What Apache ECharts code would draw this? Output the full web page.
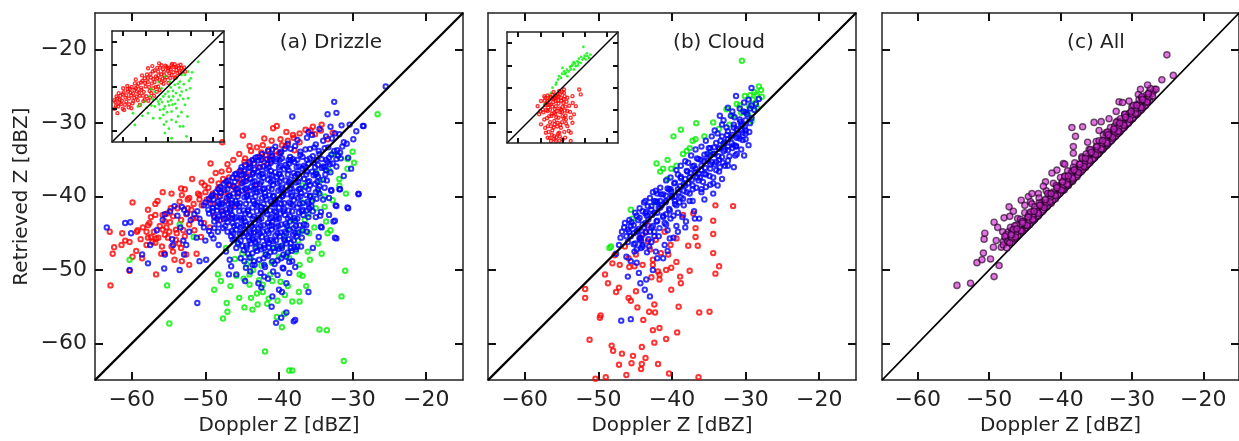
<!DOCTYPE html>
<html>
<head>
<meta charset="utf-8">
<script src="https://cdn.jsdelivr.net/npm/echarts@6/dist/echarts.min.js"></script>
<style>
  html, body { margin: 0; padding: 0; background: #fff; }
  #chart { width: 1239px; height: 441px; }
</style>
</head>
<body>
<div id="chart"></div>
<script>
// axis range and ticks (dBZ)
var axisRange = [-65, -15];
var tickValues = [-60, -50, -40, -30, -20];
var diag = [[-65, -65], [-15, -15]];
var panelTitles = ['(a) Drizzle', '(b) Cloud', '(c) All'];

// (a) Drizzle
var drizzleRed = [
  [-65.1,-51.8],[-62.9,-52.1],[-62.4,-46.9],[-62.6,-47.8],[-63.0,-44.8],[-61.3,-45.0],[-60.9,-46.0],[-60.3,-50.1],
  [-59.9,-48.2],[-59.9,-40.8],[-59.2,-44.6],[-58.6,-48.4],[-58.0,-44.8],[-56.7,-45.7],[-57.8,-43.9],[-56.7,-50.6],
  [-56.5,-40.6],[-55.8,-39.4],[-55.5,-43.4],[-54.9,-44.8],[-54.4,-42.7],[-54.0,-45.9],[-53.3,-38.9],[-53.5,-40.7],
  [-53.2,-39.8],[-52.2,-40.2],[-52.2,-49.3],[-52.4,-41.6],[-51.7,-43.0],[-50.8,-39.8],[-50.5,-38.1],[-50.1,-38.5],
  [-49.3,-35.5],[-49.0,-39.6],[-48.3,-38.9],[-47.6,-37.6],[-46.8,-36.4],[-46.6,-38.5],[-45.4,-37.6],[-44.9,-31.7],
  [-44.7,-35.3],[-44.5,-36.9],[-44.0,-33.1],[-43.6,-35.1],[-43.0,-33.3],[-42.0,-32.1],[-42.4,-34.0],[-41.8,-34.4],
  [-41.1,-35.2],[-40.8,-30.7],[-40.3,-30.4],[-40.0,-34.1],[-39.1,-33.1],[-38.1,-31.6],[-37.9,-33.7],[-37.2,-32.6],
  [-35.7,-31.0],[-35.1,-31.5],[-34.3,-31.0],[-33.4,-32.2],[-32.7,-31.3],[-47.7,-32.6],[-52.6,-47.9],[-53.3,-47.0],
  [-54.4,-47.5],[-55.6,-47.7],[-55.1,-45.6],[-55.8,-44.5],[-57.4,-45.5],[-57.8,-45.6],[-56.8,-42.5],[-55.8,-42.5],
  [-54.7,-41.6],[-58.5,-44.2],[-57.6,-43.6],[-57.0,-44.8],[-56.2,-44.0],[-55.5,-45.2],[-54.8,-43.5],[-54.0,-44.5],
  [-53.3,-43.2],[-52.6,-42.4],[-51.9,-41.8],[-51.2,-42.9],[-50.5,-41.2],[-49.8,-40.4],[-49.0,-41.0],[-48.2,-40.0],
  [-47.5,-39.4],[-46.8,-39.8],[-46.0,-38.8],[-45.2,-38.2],[-44.4,-37.5],[-43.6,-36.8],[-42.8,-36.0],[-42.0,-35.3],
  [-41.2,-34.6],[-40.4,-33.8],[-39.6,-33.0],[-38.8,-32.4],[-38.0,-32.0],[-37.2,-31.4],[-36.4,-30.9],[-35.4,-30.5],
  [-34.2,-30.2],[-56.8,-46.3],[-55.9,-46.8],[-58.0,-46.6],[-53.6,-46.4],[-52.8,-45.4],[-51.5,-44.6],[-50.2,-43.6],
  [-48.8,-42.6],[-47.6,-42.0],[-46.4,-41.3],[-53.8,-41.6],[-52.4,-40.4],[-51.0,-39.6],[-49.6,-38.8],[-48.2,-38.2],
  [-46.8,-37.4],[-45.4,-36.6],[-44.0,-35.6],[-42.6,-34.6],[-41.4,-33.6],[-39.8,-32.2],[-55.2,-42.3],[-57.4,-42.8],
  [-59.3,-44.8],[-60.3,-46.2],[-61.4,-46.6],
  [-57.2,-46.2],[-56.4,-45.6],[-55.3,-44.2],[-54.6,-46.8],[-53.9,-45.0],[-53.0,-44.6],[-52.2,-43.8],[-51.6,-41.0],
  [-50.8,-40.4],[-50.0,-39.4],[-49.2,-37.8],[-48.6,-36.8],[-47.8,-36.6],[-47.0,-35.6],[-46.2,-35.0],[-45.4,-34.2],
  [-44.6,-34.8],[-43.8,-33.8],[-42.2,-33.0],[-41.0,-32.4],[-39.0,-31.2],[-58.8,-45.8],[-59.4,-47.4],[-56.0,-47.8],
  [-54.2,-48.6],[-53.2,-48.8],[-51.2,-47.8],[-50.6,-45.5],[-49.4,-44.2],[-48.0,-43.2],[-46.8,-42.8],[-45.6,-39.6],
  [-47.2,-40.6],[-44.4,-39.2],[-43.0,-38.4],[-52.8,-39.0],[-51.8,-37.6],[-57.8,-41.8],[-56.8,-41.0],[-54.6,-39.6]
];
var drizzleGreen = [
  [-26.6,-28.8],[-30.0,-33.9],[-30.7,-34.9],[-29.8,-35.4],[-30.7,-36.2],[-31.8,-37.6],[-31.8,-38.5],[-30.9,-39.6],
  [-32.7,-40.5],[-33.8,-41.4],[-33.4,-45.0],[-34.7,-46.4],[-35.9,-45.0],[-36.1,-47.5],[-37.2,-49.3],[-37.2,-50.6],
  [-36.3,-52.2],[-37.3,-53.0],[-38.2,-54.3],[-37.2,-54.3],[-39.3,-56.0],[-39.6,-57.8],[-40.3,-56.4],[-31.0,-50.1],
  [-31.5,-53.6],[-34.5,-58.1],[-33.5,-58.2],[-31.2,-62.4],[-41.9,-61.1],[-38.6,-63.7],[-38.2,-63.7],[-47.6,-56.6],
  [-47.0,-55.7],[-47.1,-54.5],[-48.8,-52.7],[-48.3,-50.6],[-47.9,-51.5],[-44.7,-55.1],[-43.6,-55.4],[-42.9,-54.7],
  [-41.4,-53.9],[-42.2,-53.0],[-43.8,-53.8],[-40.9,-51.5],[-42.7,-51.4],[-44.0,-50.6],[-54.9,-57.3],[-55.2,-52.1],
  [-60.3,-48.6],[-51.6,-45.5],[-53.5,-43.8],[-39.0,-47.9],[-37.7,-47.5],[-39.8,-46.8],[-41.8,-47.9],[-38.8,-44.3],
  [-38.1,-43.2],[-33.6,-43.4],[-35.4,-40.3],[-34.7,-39.4],[-36.8,-38.5],[-35.0,-36.7],[-32.7,-34.2],[-31.9,-34.4],
  [-46.0,-48.5],[-44.8,-51.2],[-43.5,-50.0],[-42.2,-52.0],[-41.0,-49.0],[-39.8,-51.6],[-38.6,-48.4],[-37.4,-46.0],
  [-36.5,-43.2],[-35.2,-44.2],[-34.4,-37.8],[-33.2,-36.4],[-39.2,-45.5],[-40.6,-47.0],[-45.5,-46.5],[-47.2,-47.0],
  [-43.0,-46.8],[-36.8,-40.8],
  [-45.0,-47.8],[-43.8,-48.4],[-42.4,-49.4],[-41.2,-50.6],[-40.0,-48.2],[-38.4,-47.0],[-37.0,-44.8],[-36.0,-42.4],
  [-35.0,-41.6],[-33.8,-40.0],[-43.0,-53.2],[-41.6,-54.6],[-39.2,-53.4],[-38.8,-52.2],[-46.6,-52.2],[-45.4,-53.8],
  [-44.0,-52.0],[-40.2,-54.2],[-35.8,-48.6],[-34.2,-47.8],[-33.0,-44.6],[-36.8,-50.8],[-45.8,-50.8],[-44.4,-49.2]
];
var drizzleBlue = [
  [-63.4,-44.2],[-60.9,-43.6],[-60.2,-43.5],[-60.3,-50.0],[-60.1,-45.0],[-58.6,-47.9],[-57.8,-49.1],[-57.5,-46.6],
  [-55.6,-49.8],[-55.5,-47.9],[-55.5,-42.4],[-54.4,-46.6],[-53.5,-50.0],[-52.9,-47.9],[-52.6,-46.6],[-51.1,-54.5],
  [-50.8,-48.8],[-49.9,-48.6],[-54.2,-41.3],[-53.2,-41.4],[-52.5,-42.3],[-51.5,-42.4],[-50.8,-43.0],[-50.2,-44.2],
  [-49.5,-44.7],[-48.9,-45.7],[-48.2,-46.6],[-38.2,-29.1],[-32.5,-27.1],[-32.2,-28.6],[-33.4,-28.8],[-25.5,-25.0],
  [-28.6,-30.4],[-29.2,-39.6],[-30.7,-41.5],[-32.3,-41.2],[-32.6,-43.4],[-32.4,-45.6],[-31.8,-39.0],[-32.9,-39.1],
  [-34.3,-44.1],[-34.3,-42.1],[-35.9,-41.6],[-36.3,-43.9],[-36.0,-53.0],[-37.0,-46.8],[-37.8,-56.8],[-39.0,-51.8],
  [-39.5,-49.7],[-40.4,-57.2],[-39.7,-56.5],[-40.8,-50.2],[-42.0,-50.9],[-42.0,-49.3],[-43.6,-49.3],[-44.5,-49.7],
  [-44.7,-48.8],[-45.8,-50.6],[-46.8,-50.6],[-46.7,-48.6],[-45.8,-47.0],[-47.2,-47.5],[-46.3,-45.9],[-48.3,-44.8],
  [-48.8,-44.3],[-42.4,-52.4],[-40.0,-52.7],[-28.5,-30.4],[-29.5,-31.1],[-30.4,-30.2],[-29.9,-32.2],[-31.7,-34.0],
  [-32.2,-34.9],[-30.6,-34.7],[-33.1,-35.6],[-31.7,-39.0],[-32.9,-39.2],[-34.0,-40.4],[-32.2,-41.3],[-30.6,-41.6],
  [-32.4,-43.3],[-34.2,-44.2],[-32.2,-45.7],[-29.2,-39.7],[-34.4,-42.6],
  [-36.0,-31.2],[-34.5,-30.8],[-33.0,-30.5],[-31.5,-30.3],[-35.5,-31.6],[-32.4,-31.4],
  [-37.5,-32.3],[-36.2,-32.0],[-34.0,-32.4],[-32.8,-32.1],[-31.2,-32.6],[-38.8,-32.8],[-35.0,-32.9],
  [-40.5,-33.2],[-39.2,-33.5],[-37.8,-33.1],[-36.4,-33.6],[-35.2,-33.3],[-33.8,-33.4],[-32.5,-33.8],[-31.4,-33.2],[-41.5,-33.8],
  [-42.3,-34.2],[-41.0,-34.5],[-39.8,-34.1],[-38.5,-34.6],[-37.1,-34.3],[-35.8,-34.8],[-34.5,-34.2],[-33.2,-34.7],[-32.0,-34.4],[-40.3,-34.9],[-43.2,-34.7],
  [-44.0,-35.3],[-42.8,-35.1],[-41.6,-35.6],[-40.4,-35.2],[-39.1,-35.7],[-37.9,-35.3],[-36.6,-35.8],[-35.3,-35.4],[-34.0,-35.9],[-32.7,-35.5],[-38.4,-35.1],
  [-45.2,-36.4],[-44.1,-36.1],[-42.9,-36.6],[-41.7,-36.2],[-40.5,-36.7],[-39.3,-36.3],[-38.0,-36.8],[-36.8,-36.2],[-35.5,-36.6],[-34.2,-36.1],[-33.0,-36.7],[-43.5,-36.8],[-40.0,-36.0],
  [-46.3,-37.4],[-45.1,-37.1],[-43.9,-37.6],[-42.7,-37.2],[-41.5,-37.7],[-40.3,-37.3],[-39.1,-37.8],[-37.8,-37.2],[-36.6,-37.6],[-35.3,-37.1],[-34.0,-37.7],[-44.5,-37.9],[-41.0,-37.1],
  [-47.5,-38.3],[-46.2,-38.6],[-45.0,-38.2],[-43.8,-38.7],[-42.6,-38.3],[-41.4,-38.8],[-40.2,-38.2],[-39.0,-38.6],[-37.7,-38.1],[-36.4,-38.7],[-35.1,-38.3],[-33.8,-38.8],[-44.4,-38.9],[-38.3,-38.9],
  [-48.6,-39.4],[-47.4,-39.1],[-46.2,-39.6],[-45.0,-39.2],[-43.8,-39.7],[-42.6,-39.3],[-41.3,-39.8],[-40.1,-39.2],[-38.9,-39.7],[-37.6,-39.3],[-36.3,-39.8],[-35.0,-39.4],[-43.2,-39.0],[-39.5,-39.9],
  [-49.5,-40.3],[-48.3,-40.7],[-47.1,-40.2],[-45.9,-40.6],[-44.7,-40.1],[-43.5,-40.6],[-42.3,-40.2],[-41.1,-40.7],[-39.9,-40.3],[-38.6,-40.8],[-37.4,-40.2],[-36.1,-40.7],[-34.9,-40.3],[-46.5,-40.9],[-40.5,-40.9],
  [-50.2,-41.2],[-49.0,-41.6],[-47.8,-41.1],[-46.6,-41.7],[-45.4,-41.3],[-44.2,-41.8],[-43.0,-41.2],[-41.8,-41.6],[-40.6,-41.1],[-39.3,-41.7],[-38.1,-41.2],[-36.8,-41.8],[-35.6,-41.3],[-48.4,-41.9],[-42.4,-41.9],
  [-49.5,-42.3],[-48.2,-42.7],[-47.0,-42.2],[-45.8,-42.8],[-44.6,-42.3],[-43.4,-42.7],[-42.2,-42.2],[-41.0,-42.8],[-39.8,-42.3],[-38.5,-42.7],[-37.3,-42.2],[-36.0,-42.8],[-46.4,-42.9],[-40.4,-42.1],
  [-48.8,-43.4],[-47.5,-43.1],[-46.3,-43.6],[-45.1,-43.2],[-43.9,-43.7],[-42.7,-43.2],[-41.5,-43.6],[-40.3,-43.1],[-39.1,-43.7],[-37.8,-43.3],[-36.6,-43.8],[-44.5,-43.9],[-41.0,-43.9],
  [-47.6,-44.3],[-46.4,-44.7],[-45.2,-44.2],[-44.0,-44.8],[-42.8,-44.3],[-41.6,-44.7],[-40.4,-44.2],[-39.2,-44.8],[-38.0,-44.3],[-36.8,-44.6],[-43.4,-44.9],
  [-46.5,-45.4],[-45.3,-45.1],[-44.1,-45.6],[-42.9,-45.2],[-41.7,-45.7],[-40.5,-45.3],[-39.3,-45.8],[-38.1,-45.2],[-36.9,-45.6],[-43.5,-45.9],
  [-45.6,-46.3],[-44.4,-46.7],[-43.2,-46.2],[-42.0,-46.6],[-40.8,-46.1],[-39.6,-46.7],[-38.4,-46.3],[-37.5,-46.8],[-41.4,-46.9],
  [-44.8,-47.3],[-43.6,-47.7],[-42.4,-47.2],[-41.2,-47.6],[-40.0,-47.1],[-38.8,-47.6],[-37.7,-47.2],
  [-44.0,-48.3],[-42.7,-48.6],[-41.5,-48.1],[-40.2,-48.7],[-39.0,-48.2],[-38.2,-48.8],
  [-43.3,-49.3],[-41.9,-49.6],[-40.6,-49.2],[-39.4,-49.8],[-42.5,-50.4],[-40.2,-50.7],
  [-40.9,-33.6],[-39.7,-33.9],[-38.4,-33.5],[-37.1,-33.9],[-35.8,-33.5],[-34.6,-33.8],[-33.3,-33.3],[-32.1,-33.7],
  [-42.9,-34.6],[-41.7,-34.9],[-40.9,-34.4],[-39.6,-34.8],[-38.1,-34.9],[-36.8,-34.6],[-35.4,-34.5],[-34.2,-34.9],[-32.9,-34.3],[-31.6,-34.8],
  [-44.6,-35.7],[-43.4,-35.5],[-42.1,-35.9],[-41.1,-35.4],[-39.8,-35.8],[-38.6,-35.5],[-37.3,-35.9],[-36.0,-35.5],[-34.7,-35.7],[-33.4,-35.3],[-32.2,-35.9],
  [-45.8,-36.9],[-44.7,-36.5],[-43.3,-36.3],[-42.2,-36.9],[-41.1,-36.5],[-39.9,-36.9],[-38.7,-36.4],[-37.4,-36.9],[-36.2,-36.6],[-34.9,-36.9],[-33.6,-36.4],
  [-46.9,-37.8],[-45.7,-37.5],[-44.4,-37.3],[-43.3,-37.9],[-42.1,-37.4],[-40.8,-37.8],[-39.7,-37.4],[-38.4,-37.7],[-37.2,-37.4],[-35.9,-37.9],[-34.7,-37.3],[-33.5,-37.8],
  [-48.0,-38.7],[-46.8,-38.4],[-45.6,-38.9],[-43.2,-38.5],[-42.0,-38.9],[-40.8,-38.4],[-39.6,-38.8],[-38.4,-38.4],[-37.1,-38.9],[-35.8,-38.5],[-34.5,-38.6],
  [-49.0,-39.8],[-47.9,-39.5],[-46.7,-39.9],[-45.5,-39.5],[-44.3,-39.8],[-43.0,-39.4],[-41.9,-39.5],[-40.7,-39.9],[-39.4,-39.5],[-38.2,-39.8],[-37.0,-39.5],[-35.7,-39.9],[-34.5,-39.6],
  [-50.0,-40.8],[-48.9,-40.4],[-47.7,-40.9],[-46.4,-40.5],[-45.3,-40.9],[-44.1,-40.5],[-42.9,-40.8],[-41.7,-40.4],[-40.5,-40.5],[-39.3,-40.9],[-38.0,-40.5],[-36.8,-40.9],[-35.5,-40.6],
  [-49.6,-41.8],[-48.4,-41.4],[-47.2,-41.8],[-46.0,-41.4],[-44.8,-41.9],[-43.6,-41.5],[-42.4,-41.4],[-41.2,-41.9],[-40.0,-41.5],[-38.7,-41.9],[-37.5,-41.5],[-36.2,-41.9],[-35.4,-42.0],
  [-48.8,-42.8],[-47.6,-42.4],[-46.4,-42.5],[-45.2,-42.9],[-44.0,-42.5],[-42.8,-42.9],[-41.6,-42.4],[-40.4,-42.8],[-39.2,-42.5],[-37.9,-42.9],[-36.7,-42.5],
  [-48.2,-43.8],[-47.0,-43.5],[-45.7,-43.9],[-44.6,-43.4],[-43.3,-43.6],[-42.1,-43.9],[-40.9,-43.5],[-39.7,-43.8],[-38.5,-43.4],[-37.2,-43.9],
  [-47.0,-44.8],[-45.8,-44.5],[-44.6,-44.9],[-43.4,-44.4],[-42.2,-44.8],[-41.0,-44.5],[-39.8,-44.9],[-38.6,-44.5],[-37.4,-44.9],
  [-46.0,-45.8],[-44.8,-45.4],[-43.6,-45.7],[-42.3,-45.5],[-41.1,-45.9],[-39.9,-45.4],[-38.7,-45.8],[-37.6,-45.4],
  [-45.0,-46.7],[-43.8,-46.4],[-42.6,-46.8],[-41.4,-46.4],[-40.2,-46.8],[-39.0,-46.4],[-37.9,-46.9],
  [-44.2,-47.8],[-43.0,-47.4],[-41.8,-47.9],[-40.6,-47.5],[-39.4,-47.9],[-38.3,-47.4],
  [-43.4,-48.8],[-42.1,-48.4],[-40.9,-48.8],[-39.7,-48.4],[-38.6,-48.9],
  [-54.8,-42.0],[-53.8,-42.6],[-52.9,-41.8],[-52.0,-43.2],[-51.1,-42.0],[-50.6,-43.6],[-53.4,-44.2],[-52.2,-44.8],
  [-51.2,-45.6],[-50.0,-46.0],[-49.2,-45.2],[-55.8,-43.2],[-56.6,-44.6],[-54.5,-45.8],[-53.0,-46.0],
  [-46.5,-49.5],[-45.2,-48.4],[-44.6,-51.5],[-43.9,-50.2],[-42.8,-51.8],[-41.5,-51.2],[-40.9,-53.6],[-39.6,-53.0],
  [-38.6,-50.4],[-37.8,-49.6],[-41.0,-55.0],[-39.0,-55.8],[-38.0,-57.0],
  [-33.6,-31.8],[-31.8,-31.5],[-30.8,-32.8],[-35.0,-42.8],[-33.2,-42.5],[-34.6,-45.5],[-33.2,-40.2],[-31.2,-37.2],
  [-30.2,-36.2],[-36.2,-44.8],[-35.4,-47.0],
  [-43.6,-35.0],[-42.4,-35.0],[-41.2,-35.0],[-39.9,-35.0],[-38.7,-35.0],[-37.5,-35.0],[-36.2,-35.0],[-34.9,-35.0],[-33.6,-35.0],
  [-45.1,-36.0],[-43.9,-36.0],[-42.6,-36.0],[-41.4,-36.0],[-38.9,-36.0],[-37.6,-36.0],[-36.4,-36.0],[-35.1,-36.0],[-33.8,-36.0],
  [-46.0,-37.0],[-44.8,-37.0],[-43.6,-37.0],[-42.4,-37.0],[-41.3,-37.0],[-40.0,-37.0],[-38.8,-37.0],[-37.5,-37.0],[-36.3,-37.0],[-35.0,-37.0],[-33.7,-37.0],
  [-47.2,-38.0],[-46.0,-38.0],[-44.8,-38.0],[-43.6,-38.0],[-42.4,-38.0],[-41.1,-38.0],[-39.9,-38.0],[-38.6,-38.0],[-37.4,-38.0],[-36.1,-38.0],[-34.8,-38.0],
  [-48.2,-39.0],[-47.0,-39.0],[-45.8,-39.0],[-44.6,-39.0],[-43.5,-39.0],[-42.2,-39.0],[-41.0,-39.0],[-39.8,-39.0],[-38.5,-39.0],[-37.3,-39.0],[-36.0,-39.0],[-34.7,-39.0],
  [-49.2,-40.0],[-48.0,-40.0],[-46.8,-40.0],[-45.6,-40.0],[-44.4,-40.0],[-43.2,-40.0],[-41.9,-40.0],[-40.8,-40.0],[-39.6,-40.0],[-38.3,-40.0],[-37.1,-40.0],[-35.8,-40.0],
  [-49.3,-41.0],[-48.1,-41.0],[-46.9,-41.0],[-45.7,-41.0],[-44.5,-41.0],[-43.3,-41.0],[-42.1,-41.0],[-40.9,-41.0],[-39.7,-41.0],[-38.4,-41.0],[-37.2,-41.0],[-36.0,-41.0],
  [-49.0,-42.0],[-47.8,-42.0],[-46.6,-42.0],[-45.4,-42.0],[-44.2,-42.0],[-43.0,-42.0],[-41.8,-42.0],[-40.6,-42.0],[-39.4,-42.0],[-38.2,-42.0],[-36.9,-42.0],
  [-48.4,-43.0],[-47.2,-43.0],[-46.0,-43.0],[-44.8,-43.0],[-43.6,-43.0],[-42.4,-43.0],[-41.2,-43.0],[-40.0,-43.0],[-38.8,-43.0],[-37.5,-43.0],
  [-47.3,-44.0],[-46.1,-44.0],[-44.9,-44.0],[-43.7,-44.0],[-42.5,-44.0],[-41.3,-44.0],[-40.1,-44.0],[-38.9,-44.0],[-37.7,-44.0],
  [-46.2,-45.0],[-45.0,-45.0],[-43.8,-45.0],[-42.6,-45.0],[-41.4,-45.0],[-40.2,-45.0],[-39.0,-45.0],[-37.8,-45.0],
  [-45.2,-46.0],[-44.0,-46.0],[-42.8,-46.0],[-41.6,-46.0],[-40.4,-46.0],[-39.2,-46.0],[-38.0,-46.0],
  [-44.4,-47.0],[-43.2,-47.0],[-42.0,-47.0],[-40.8,-47.0],[-39.6,-47.0],[-38.4,-47.0]
];
var drizzleInsetRed = [
  [-62.6,-52.0],[-62.3,-49.0],[-63.0,-44.5],[-60.0,-40.8],[-57.8,-42.3],[-54.8,-38.6],[-54.1,-44.5],[-50.4,-36.3],
  [-48.9,-31.8],[-46.6,-40.8],[-44.4,-33.3],[-42.9,-30.4],[-40.7,-31.1],[-38.4,-30.4],[-36.2,-32.6],[-33.9,-31.8],
  [-32.4,-33.3],[-58.6,-46.8],[-56.3,-49.8],[-52.6,-48.3],[-50.4,-46.0],[-47.4,-43.0],[-44.4,-40.0],[-41.4,-37.1],
  [-38.4,-34.8],[-51.9,-41.5],[-63.5,-47.0],[-61.5,-45.8],[-61.0,-48.0],[-60.2,-43.6],[-59.0,-45.0],[-58.2,-39.8],
  [-57.0,-41.0],[-56.4,-44.0],[-55.5,-46.5],[-55.0,-41.6],[-53.6,-40.0],[-53.0,-42.8],[-52.0,-38.2],[-51.2,-44.2],
  [-50.0,-40.0],[-49.4,-34.6],[-49.0,-38.0],[-48.2,-42.0],[-47.6,-36.0],[-46.8,-33.2],[-46.0,-38.0],[-45.4,-35.5],
  [-44.8,-31.6],[-43.8,-37.0],[-43.0,-34.5],[-42.2,-32.2],[-41.6,-35.0],[-40.0,-33.0],[-39.4,-31.5],[-37.2,-31.2],
  [-35.4,-30.6],[-34.8,-33.6],[-36.6,-35.8],[-39.0,-36.2],[-42.0,-38.8],[-45.0,-42.4],[-48.0,-45.0],[-53.5,-46.2],
  [-62.0,-43.0],[-64.0,-50.0],[-59.6,-50.6],[-57.4,-48.0],[-54.4,-36.8],[-51.6,-35.0],[-47.0,-30.8],[-44.0,-29.6],
  [-64.0,-46.2],[-63.2,-48.6],[-62.6,-45.4],[-61.8,-47.4],[-61.2,-44.2],[-60.6,-46.4],[-59.8,-42.6],[-59.2,-48.2],
  [-58.6,-44.0],[-58.0,-41.2],[-57.4,-45.4],[-56.8,-42.8],[-56.2,-40.2],[-55.6,-43.2],[-55.0,-45.0],[-54.4,-40.8],
  [-53.8,-42.2],[-53.2,-38.6],[-52.6,-44.2],[-52.0,-40.6],[-51.4,-37.4],[-50.8,-42.4],[-50.2,-38.4],[-49.6,-44.4],
  [-49.0,-36.2],[-48.4,-40.2],[-47.8,-34.4],[-47.2,-38.6],[-46.6,-36.6],[-46.0,-32.8],[-45.4,-40.2],[-44.8,-36.4],
  [-44.2,-35.0],[-43.6,-31.6],[-43.0,-38.2],[-42.4,-36.4],[-41.8,-33.4],[-41.2,-30.6],[-40.6,-35.8],[-40.0,-31.8],
  [-39.4,-34.0],[-38.8,-32.2],[-38.2,-29.8],[-37.6,-33.6],[-37.0,-30.0],[-36.4,-31.2],[-35.8,-34.0],[-35.2,-31.8],
  [-34.4,-30.2],[-33.6,-33.2],[-32.8,-31.4],[-60.2,-50.0],[-57.6,-49.4],[-55.8,-47.6],[-51.0,-46.6],[-48.8,-46.4],
  [-46.2,-44.2],[-43.8,-41.6],[-39.8,-38.4],[-37.0,-36.2]
];
var drizzleInsetGreen = [
  [-26.5,-28.9],[-29.8,-36.3],[-31.0,-45.3],[-31.3,-53.5],[-34.7,-58.0],[-33.2,-58.0],[-31.7,-62.5],[-41.4,-61.0],
  [-38.4,-63.3],[-54.8,-57.3],[-48.9,-52.0],[-46.6,-54.3],[-42.1,-52.8],[-38.4,-51.3],[-36.2,-49.8],[-33.9,-42.3],
  [-34.7,-37.8],[-32.4,-34.8],[-31.0,-33.3],[-37.0,-39.3],[-40.0,-42.3],[-42.1,-44.5],[-44.4,-46.8],[-45.9,-49.0],
  [-40.0,-46.8],[-37.7,-44.5],[-35.5,-46.0],[-41.4,-49.0],[-43.6,-50.5],[-50.4,-46.8],[-48.1,-44.5],[-53.4,-49.0],
  [-45.9,-42.3],[-42.9,-40.8],[-39.2,-37.8],[-36.2,-36.3],[-33.9,-34.8],[-38.4,-55.0],[-40.7,-55.8],[-35.5,-53.5],
  [-32.4,-48.3],[-30.1,-40.8],[-43.6,-54.3],[-47.5,-41.2],[-44.2,-38.0],[-41.2,-35.4],[-37.8,-42.0],[-35.0,-40.5],
  [-39.5,-48.5],[-42.6,-47.0],[-46.8,-45.8],[-49.6,-49.6],[-36.4,-43.0],[-33.0,-39.0],[-38.6,-46.2],
  [-44.0,-48.0],[-42.0,-50.2],[-40.4,-51.6],[-38.0,-48.2],[-36.8,-47.8],[-34.6,-44.0],[-33.2,-45.6],[-31.8,-41.6],
  [-30.6,-37.4],[-29.2,-33.6],[-45.2,-45.6],[-47.4,-48.6],[-51.4,-53.2],[-52.2,-48.0],[-55.6,-52.0],[-39.6,-59.0],
  [-36.4,-56.0],[-41.8,-57.2],[-34.0,-51.6],[-35.6,-38.8],[-38.8,-40.4],[-41.2,-43.4],[-43.4,-45.8],[-39.6,-44.6]
];

// (b) Cloud
var cloudRed = [
  [-34.1,-41.2],[-31.7,-41.3],[-34.4,-43.3],[-34.4,-45.1],[-34.4,-47.7],[-33.6,-49.5],[-34.1,-50.5],[-34.9,-55.7],
  [-36.3,-55.8],[-36.5,-46.7],[-37.8,-46.7],[-36.8,-44.3],[-36.8,-45.5],[-37.6,-50.1],[-38.9,-50.9],[-38.8,-51.8],
  [-40.1,-52.7],[-39.1,-55.0],[-39.4,-48.9],[-40.1,-49.7],[-40.8,-50.0],[-41.7,-51.3],[-41.7,-50.6],[-42.6,-49.3],
  [-41.5,-47.7],[-42.2,-45.9],[-43.3,-46.1],[-43.5,-44.8],[-42.4,-54.7],[-42.3,-55.8],[-43.1,-55.7],[-43.9,-56.8],
  [-42.6,-58.2],[-41.7,-57.9],[-39.3,-58.5],[-40.8,-59.4],[-42.4,-59.9],[-44.1,-60.5],[-43.6,-62.0],[-44.1,-62.8],
  [-45.3,-61.7],[-45.5,-62.7],[-46.8,-61.4],[-47.2,-62.9],[-48.2,-60.3],[-48.0,-61.0],[-46.2,-64.3],[-44.2,-63.5],
  [-41.9,-62.8],[-40.4,-64.1],[-49.0,-64.6],[-50.4,-64.8],[-51.2,-59.5],[-49.7,-56.2],[-51.8,-53.8],[-51.8,-52.6],
  [-49.1,-50.6],[-48.7,-51.8],[-47.6,-53.0],[-47.2,-52.4],[-45.9,-53.8],[-45.6,-54.2],[-44.9,-52.9],[-44.7,-55.1],
  [-48.1,-49.1],[-47.1,-49.3],[-45.8,-49.6],[-45.1,-49.5],[-44.0,-49.3],[-47.8,-48.0],[-45.9,-48.4],[-44.9,-47.9],
  [-42.6,-48.6],[-44.2,-45.6],[-40.5,-47.9],[-41.0,-44.8],[-39.4,-45.7],[-40.2,-46.6],[-38.5,-42.5],[-37.1,-42.3],
  [-43.3,-43.9],[-36.4,-64.6],[-49.8,-56.5],[-41.9,-50.2],[-42.8,-51.0],[-46.4,-46.8],[-43.0,-47.2]
];
var cloudGreen = [
  [-30.5,-21.5],[-27.9,-25.5],[-28.5,-26.1],[-29.0,-26.8],[-29.5,-27.7],[-29.7,-28.8],[-30.1,-26.3],[-29.2,-29.7],
  [-36.7,-30.0],[-38.8,-30.9],[-39.8,-31.8],[-38.5,-34.2],[-36.8,-32.2],[-42.1,-35.5],[-41.6,-36.6],[-40.1,-36.2],
  [-39.4,-35.8],[-45.6,-41.8],[-45.4,-43.0],[-42.4,-40.8],[-48.3,-46.8],[-48.5,-47.0],[-32.6,-28.1],[-31.7,-29.0],
  [-34.4,-29.9],[-33.0,-32.8],[-34.9,-34.2],[-28.6,-27.2],[-30.8,-27.6],[-37.6,-33.4],[-40.6,-35.0],
  [-28.2,-25.0],[-28.8,-25.8],[-29.4,-26.2],[-27.8,-26.4],[-28.4,-28.0],[-30.6,-28.6],[-29.8,-28.6],[-31.2,-27.4],
  [-32.2,-30.2],[-33.6,-30.8],[-35.6,-31.8],[-37.2,-32.4],[-38.0,-33.8],[-40.6,-37.6],[-41.2,-36.2]
];
var cloudBlue = [
  [-29.2,-25.2],[-28.2,-26.7],[-31.3,-26.3],[-32.4,-27.9],[-33.5,-29.0],[-30.0,-32.2],[-30.4,-31.3],[-31.3,-33.1],
  [-32.4,-35.1],[-33.5,-36.0],[-33.8,-38.5],[-34.4,-38.2],[-35.4,-38.7],[-36.3,-43.0],[-36.9,-43.0],[-38.1,-43.4],
  [-39.2,-44.8],[-40.3,-45.7],[-41.0,-46.6],[-42.2,-47.5],[-43.1,-46.8],[-44.0,-46.6],[-45.1,-47.5],[-46.2,-48.2],
  [-47.2,-46.6],[-46.0,-50.9],[-44.5,-50.4],[-43.5,-51.3],[-43.7,-52.7],[-44.3,-51.8],[-46.9,-56.9],[-45.6,-56.7],
  [-44.7,-44.8],[-44.0,-45.2],[-40.1,-39.3],[-42.6,-39.4],[-42.2,-40.7],[-43.5,-42.1],[-42.4,-44.8],[-41.7,-44.3],
  [-47.0,-45.6],[-46.5,-44.2],[-46.0,-46.2],
  [-45.5,-43.5],[-45.2,-45.0],[-44.8,-42.6],[-44.5,-44.4],[-44.2,-46.0],
  [-44.0,-42.0],[-43.6,-43.6],[-43.3,-41.3],[-43.0,-44.8],[-42.7,-42.5],
  [-42.4,-40.6],[-42.1,-43.4],[-41.8,-41.5],[-41.5,-39.7],[-41.2,-42.8],[-40.9,-40.8],
  [-40.6,-38.9],[-40.3,-41.9],[-40.0,-40.1],[-39.7,-38.2],[-39.4,-41.2],[-39.1,-39.4],
  [-38.8,-37.3],[-38.5,-40.3],[-38.2,-38.5],[-37.9,-36.6],[-37.6,-39.6],[-37.3,-37.7],
  [-37.0,-35.8],[-36.7,-38.8],[-36.4,-36.9],[-36.1,-35.0],[-35.8,-38.0],[-35.5,-36.1],
  [-35.2,-34.2],[-34.9,-37.2],[-34.6,-35.3],[-34.3,-33.3],[-34.0,-36.4],[-33.7,-34.5],
  [-33.4,-32.4],[-33.1,-35.4],[-32.8,-33.6],[-32.5,-31.6],[-32.2,-34.5],[-31.9,-32.7],
  [-31.6,-30.6],[-31.3,-33.2],[-31.0,-31.8],[-30.7,-29.8],[-30.4,-32.3],[-30.1,-30.5],[-29.8,-28.8],[-29.5,-31.2],[-29.2,-29.3],
  [-45.8,-44.8],[-44.6,-43.2],[-43.4,-42.6],[-42.8,-41.8],[-41.6,-40.6],[-40.8,-39.9],[-40.2,-39.0],[-39.6,-40.0],
  [-38.9,-38.6],[-38.2,-37.6],[-37.5,-36.8],[-36.8,-36.2],[-36.2,-37.4],[-35.6,-35.2],[-34.8,-34.4],[-34.2,-35.6],
  [-33.6,-33.4],[-33.0,-32.8],[-32.4,-33.2],[-31.8,-31.6],[-31.2,-30.8],[-30.6,-31.0],[-30.0,-29.6],[-42.0,-39.6],
  [-43.8,-40.8],[-39.2,-37.0],[-37.8,-35.4],[-36.6,-34.8],[-35.0,-33.4],[-33.8,-31.4],[-32.6,-30.6],[-31.5,-29.2],
  [-30.3,-28.4],[-29.2,-27.6],[-41.0,-43.6],[-39.8,-42.6],[-38.4,-41.2],[-37.2,-40.6],[-36.0,-39.4],[-34.8,-38.4],
  [-33.6,-36.6],[-32.4,-35.8],[-31.4,-34.4],[-30.6,-33.6],[-44.2,-47.0],[-42.8,-46.2],[-41.8,-45.4],[-40.6,-44.6],
  [-39.4,-44.0],[-38.6,-42.8],[-30.8,-28.0],[-32.0,-29.0],[-33.2,-30.2],[-34.6,-31.8],[-36.0,-33.2],[-37.4,-34.4],
  [-38.8,-35.8],[-40.2,-37.4],[-41.6,-38.8],[-43.0,-40.2],[-44.4,-41.6],[-45.8,-43.2],
  [-46.8,-44.8],[-46.2,-45.4],[-45.6,-44.0],[-45.0,-46.4],[-44.4,-45.6],[-43.8,-44.2],[-43.2,-45.8],[-42.6,-44.0],
  [-42.0,-42.2],[-41.4,-41.2],[-40.8,-42.4],[-40.2,-43.0],[-39.6,-40.6],[-39.0,-40.8],[-38.4,-39.2],[-37.8,-38.2],
  [-37.2,-39.0],[-36.6,-37.4],[-36.0,-36.4],[-35.4,-37.0],[-34.8,-35.6],[-34.2,-34.2],[-33.6,-35.0],[-33.0,-33.8],
  [-32.4,-32.2],[-31.8,-33.4],[-31.2,-32.0],[-30.6,-30.2],[-30.0,-31.0],[-29.4,-30.0],[-28.8,-28.2],[-28.6,-27.4],
  [-29.6,-26.8],[-30.2,-27.2],[-31.8,-28.4],[-33.0,-29.6],[-34.2,-31.0],[-35.4,-32.4],[-36.8,-33.6],[-38.2,-35.2],
  [-39.4,-36.4],[-40.8,-37.8],[-42.2,-39.2],[-43.6,-40.6],[-45.0,-42.2],[-46.4,-43.6],[-44.8,-47.2],[-43.4,-47.6],
  [-42.0,-48.4],[-40.6,-47.4],[-39.8,-45.6],[-38.2,-44.2],[-37.0,-42.0],[-35.6,-40.4],[-34.4,-39.6],[-33.2,-37.6],
  [-31.6,-36.0],[-30.2,-34.4],[-29.6,-33.0],[-41.2,-48.4],[-44.8,-49.0],[-45.6,-48.8],[-42.6,-50.0],[-43.0,-53.6],
  [-47.6,-47.8],
  [-46.0,-44.5],[-45.2,-43.9],[-44.4,-42.9],[-43.6,-42.3],[-42.8,-41.3],[-42.0,-40.7],[-41.2,-39.7],[-40.4,-39.0],
  [-39.6,-38.1],[-38.8,-37.5],[-38.0,-36.5],[-37.2,-35.9],[-36.4,-34.9],[-35.6,-34.3],[-34.8,-33.4],[-34.0,-32.7],
  [-33.2,-31.8],[-32.4,-31.1],[-31.6,-30.2],[-30.8,-29.5],[-30.0,-28.5],[-29.4,-28.0],
  [-45.6,-45.4],[-44.8,-44.7],[-44.0,-43.8],[-43.2,-43.1],[-42.4,-42.2],[-41.6,-41.5],[-40.8,-40.6],[-40.0,-39.9],
  [-39.2,-39.0],[-38.4,-38.3],[-37.6,-37.4],[-36.8,-36.7],[-36.0,-35.8],[-35.2,-35.1],[-34.4,-34.2],[-33.6,-33.5],
  [-32.8,-32.6],[-32.0,-31.9],[-31.2,-31.0],[-30.4,-30.3],
  [-45.2,-46.5],[-44.4,-45.8],[-43.6,-44.9],[-42.8,-44.2],[-42.0,-43.3],[-41.2,-42.6],[-40.4,-41.7],[-39.6,-41.0],
  [-38.8,-40.1],[-38.0,-39.4],[-37.2,-38.5],[-36.4,-37.8],[-35.6,-36.9],[-34.8,-36.2],[-34.0,-35.3],[-33.2,-34.6],
  [-32.4,-33.7],[-31.6,-33.0],[-30.8,-32.1],[-30.0,-31.4],
  [-44.0,-46.8],[-42.4,-45.4],[-40.8,-43.8],[-39.2,-42.2],[-37.6,-40.6],[-36.0,-39.0],[-34.4,-37.4],[-32.8,-35.8],
  [-31.2,-34.2]
];
var cloudInsetGreen = [
  [-30.6,-21.7],[-28.0,-26.7],[-29.5,-27.4],[-31.8,-28.9],[-34.0,-30.4],[-36.3,-31.9],[-38.5,-33.4],[-40.7,-35.7],
  [-42.0,-36.4],[-40.0,-31.2],[-37.8,-34.9],[-45.2,-42.4],[-47.5,-46.9],[-48.2,-47.6],[-35.5,-29.7],[-33.3,-28.2],
  [-31.0,-27.4],[-28.8,-25.9],[-30.3,-26.7],[-36.6,-30.7],[-34.8,-31.9],[-39.3,-32.7],[-43.0,-38.7],[-44.5,-40.1],
  [-41.5,-34.9],[-29.0,-24.6],[-27.4,-25.2],[-32.6,-27.0],[-35.0,-28.6],[-37.2,-32.8],[-39.0,-34.0],[-33.0,-30.0],
  [-31.6,-26.2],[-32.8,-28.8],[-34.4,-29.2],[-36.0,-30.4],[-38.0,-32.0],[-40.2,-33.8],[-42.8,-37.8],[-46.0,-43.8],
  [-30.0,-25.6]
];
var cloudInsetRed = [
  [-32.5,-40.9],[-31.8,-43.1],[-35.5,-43.9],[-34.0,-48.4],[-34.8,-52.1],[-35.5,-55.9],[-36.3,-60.4],[-48.2,-54.4],
  [-49.7,-56.6],[-47.5,-60.4],[-46.7,-62.6],[-43.7,-61.9],[-41.5,-60.4],[-40.7,-58.1],[-42.2,-55.9],[-45.2,-57.4],
  [-38.5,-54.4],[-37.8,-50.6],[-40.7,-49.9],[-43.7,-51.4],[-46.7,-50.6],[-48.9,-49.9],[-50.5,-52.1],[-45.2,-47.6],
  [-43.0,-46.1],[-40.7,-44.6],[-39.3,-42.4],[-42.2,-43.1],[-44.5,-44.6],[-46.7,-46.1],[-41.5,-41.6],[-39.3,-40.9],
  [-37.8,-44.6],[-46.0,-52.9],[-43.7,-55.1],[-40.0,-52.9],[-37.8,-57.4],[-45.2,-64.1],[-43.0,-64.1],[-40.0,-63.4],
  [-36.3,-64.1],[-49.7,-46.1],[-48.2,-43.9],[-51.2,-48.4],[-43.0,-48.4],[-36.3,-53.6],[-44.0,-42.0],[-42.0,-45.8],
  [-47.6,-48.0],[-45.6,-50.0],[-41.8,-47.2],[-39.6,-47.0],[-42.8,-53.4],[-44.6,-59.4],[-41.2,-62.0],
  [-47.0,-47.2],[-45.8,-45.4],[-44.2,-46.6],[-42.6,-44.4],[-41.2,-43.0],[-40.2,-42.0],[-39.0,-44.0],[-38.2,-46.4],
  [-37.0,-48.2],[-36.6,-51.0],[-35.4,-47.0],[-46.4,-49.0],[-44.8,-51.8],[-42.6,-50.6],[-41.0,-51.2],[-39.0,-50.4],
  [-38.6,-52.6],[-47.0,-53.8],[-45.6,-55.6],[-42.4,-57.6],[-40.2,-55.6],[-39.2,-60.0],[-44.0,-58.0],[-46.2,-60.0],
  [-42.8,-62.4],[-48.6,-51.2],[-50.0,-50.6],[-48.0,-46.0],[-44.6,-43.4],[-43.4,-44.8],
  [-47.8,-44.6],[-46.6,-43.6],[-45.4,-44.4],[-44.2,-45.2],[-43.0,-43.6],[-41.8,-44.2],[-40.6,-46.0],[-39.4,-45.2],
  [-38.6,-48.6],[-40.0,-48.8],[-41.4,-49.4],[-43.4,-49.8],[-44.6,-48.6],[-46.0,-47.8],[-47.4,-50.2],[-45.0,-52.8],
  [-43.2,-52.0],[-41.8,-53.6],[-40.2,-51.0],[-39.4,-53.8],[-41.0,-56.8],[-43.6,-56.6],[-46.6,-57.4],[-44.8,-61.4],
  [-42.0,-60.8],[-47.8,-58.2],[-45.8,-62.8],[-43.8,-63.2],[-41.4,-64.0],[-38.4,-56.2],[-37.2,-59.6],[-38.8,-62.6]
];

// (c) All
var allPoints = [
  [-54.5,-52.1],[-52.6,-51.8],[-49.3,-50.9],[-48.6,-49.4],[-51.7,-49.0],[-50.8,-47.7],[-51.0,-48.6],[-49.8,-48.5],
  [-50.7,-45.8],[-50.6,-45.0],[-49.3,-43.5],[-49.4,-46.9],[-48.3,-46.9],[-48.0,-46.1],[-48.1,-44.8],[-47.9,-42.9],
  [-47.2,-41.4],[-47.1,-42.7],[-47.3,-44.8],[-47.7,-45.6],[-45.5,-40.5],[-44.5,-40.0],[-44.2,-40.7],[-43.1,-39.6],
  [-42.1,-38.0],[-40.5,-36.4],[-39.6,-35.5],[-38.4,-30.6],[-36.9,-30.5],[-37.9,-31.8],[-38.2,-34.1],[-35.3,-29.9],
  [-34.3,-29.8],[-31.8,-27.1],[-31.3,-27.2],[-29.1,-26.1],[-25.8,-24.1],[-24.2,-23.5],[-25.1,-20.7],[-26.8,-25.4],
  [-48.0,-46.6],[-47.6,-45.2],[-47.2,-46.3],[-46.8,-44.6],[-46.5,-45.8],[-46.2,-43.9],[-45.9,-45.2],[-45.5,-44.6],
  [-45.2,-43.4],[-44.9,-44.3],[-44.6,-42.8],[-44.3,-43.8],[-44.0,-42.1],[-43.7,-43.2],[-43.4,-41.7],[-43.1,-42.6],
  [-42.8,-41.2],[-42.5,-42.0],[-42.2,-40.5],[-41.9,-41.4],[-41.6,-39.8],[-41.3,-40.9],[-41.0,-39.4],[-40.7,-40.3],
  [-40.4,-38.7],[-40.1,-39.6],[-39.8,-38.1],[-39.5,-39.1],[-39.2,-37.5],[-38.9,-38.5],[-38.6,-36.9],[-38.3,-37.9],
  [-38.0,-36.3],[-37.7,-37.3],[-37.4,-35.6],[-37.1,-36.6],[-36.8,-35.0],[-36.5,-36.0],[-36.2,-34.5],[-35.9,-35.4],
  [-35.6,-33.9],[-35.3,-34.8],[-35.0,-33.3],[-34.7,-34.2],[-34.4,-32.7],[-34.1,-33.6],[-33.8,-32.1],[-33.5,-33.0],
  [-33.2,-31.4],[-32.9,-32.4],[-32.6,-30.9],[-32.3,-31.8],[-32.0,-30.3],[-31.7,-31.2],[-31.4,-29.7],[-31.1,-30.6],
  [-30.8,-29.1],[-30.5,-30.0],[-30.2,-28.6],[-29.9,-29.4],[-29.6,-28.0],[-29.3,-28.8],[-29.0,-27.4],[-28.7,-28.2],
  [-28.4,-26.9],[-28.1,-27.6],[-27.8,-26.5],[-27.5,-26.9],[-27.2,-26.0],
  [-47.5,-47.0],[-46.8,-46.2],[-46.0,-45.3],[-45.3,-44.7],[-44.6,-44.0],[-43.9,-43.3],[-43.2,-42.6],[-42.5,-41.8],
  [-41.8,-41.2],[-41.1,-40.5],[-40.4,-39.8],[-39.7,-39.1],[-39.0,-38.4],[-38.3,-37.7],[-37.6,-37.0],[-36.9,-36.3],
  [-36.2,-35.6],[-35.5,-34.9],[-34.8,-34.2],[-34.1,-33.5],[-33.4,-32.8],[-32.7,-32.1],[-32.0,-31.4],[-31.3,-30.7],
  [-30.6,-30.0],[-29.9,-29.3],[-29.2,-28.6],[-28.5,-27.9],[-27.8,-27.2],
  [-47.0,-44.2],[-46.0,-43.0],[-45.0,-42.2],[-44.0,-41.0],[-43.0,-40.2],[-42.0,-39.2],[-41.0,-38.2],[-40.0,-37.4],
  [-39.0,-36.5],[-38.0,-35.4],[-37.0,-34.6],[-36.0,-33.6],[-35.0,-32.5],[-34.0,-31.6],[-33.0,-30.6],[-32.0,-29.7],
  [-31.0,-28.8],[-30.0,-27.8],[-29.0,-26.8],[-28.0,-26.2],
  [-46.4,-44.0],[-45.6,-43.1],[-44.4,-42.4],[-43.6,-41.4],[-42.6,-40.8],[-41.4,-39.6],[-40.2,-38.6],[-39.4,-37.2],
  [-38.4,-36.6],[-37.2,-35.6],[-36.4,-34.2],[-35.2,-33.7],[-34.2,-32.6],[-33.6,-31.3],[-32.4,-30.4],[-31.6,-29.4],
  [-30.4,-28.7],[-29.4,-27.5],[-28.6,-26.6],[-27.6,-25.8],
  [-47.4,-46.1],[-46.8,-45.7],[-46.2,-44.9],[-45.6,-44.5],[-45.0,-43.7],[-44.4,-43.3],[-43.8,-42.5],[-43.2,-42.1],
  [-42.6,-41.3],[-42.0,-40.9],[-41.4,-40.1],[-40.8,-39.7],[-40.2,-38.9],[-39.6,-38.5],[-39.0,-37.7],[-38.4,-37.3],
  [-37.8,-36.5],[-37.2,-36.1],[-36.6,-35.3],[-36.0,-34.9],[-35.4,-34.1],[-34.8,-33.7],[-34.2,-32.9],[-33.6,-32.5],
  [-33.0,-31.7],[-32.4,-31.3],[-31.8,-30.5],[-31.2,-30.1],[-30.6,-29.3],[-30.0,-28.9],[-29.4,-28.1],[-28.8,-27.7],
  [-28.2,-26.9],[-27.6,-26.5],[-27.0,-25.7],[-26.6,-25.4],
  [-47.8,-45.4],[-46.6,-44.5],[-45.4,-43.4],[-44.2,-42.1],[-43.0,-40.9],[-41.8,-39.6],[-40.6,-38.5],[-39.4,-37.3],
  [-38.2,-36.0],[-37.0,-34.8],[-35.8,-33.6],[-34.6,-32.4],[-33.4,-31.2],[-32.2,-29.9],[-31.0,-28.8],[-29.8,-27.6],
  [-28.6,-26.4],[-27.4,-25.3],
  [-49.0,-46.0],[-48.8,-44.2],[-46.6,-42.0],[-45.0,-41.2],[-44.0,-39.6],[-42.4,-38.6],[-41.2,-36.8],[-39.4,-35.6],
  [-38.2,-33.2],[-36.2,-32.6],[-34.6,-31.0],[-33.2,-29.4],[-32.2,-28.4],[-30.4,-27.0],[-28.8,-25.4],[-27.8,-24.8],
  [-47.1,-46.3],[-46.3,-45.5],[-45.5,-44.7],[-44.7,-43.9],[-43.9,-43.1],[-43.1,-42.3],[-42.3,-41.5],[-41.5,-40.7],
  [-40.7,-39.9],[-39.9,-39.1],[-39.1,-38.3],[-38.3,-37.5],[-37.5,-36.7],[-36.7,-35.9],[-35.9,-35.1],[-35.1,-34.3],
  [-34.3,-33.5],[-33.5,-32.7],[-32.7,-31.9],[-31.9,-31.1],[-31.1,-30.3],[-30.3,-29.5],[-29.5,-28.7],[-28.7,-27.9],
  [-27.9,-27.1],[-27.1,-26.3],
  [-46.9,-45.2],[-46.1,-44.4],[-45.3,-43.6],[-44.5,-42.8],[-43.7,-42.0],[-42.9,-41.2],[-42.1,-40.4],[-41.3,-39.6],
  [-40.5,-38.8],[-39.7,-38.0],[-38.9,-37.2],[-38.1,-36.4],[-37.3,-35.6],[-36.5,-34.8],[-35.7,-34.0],[-34.9,-33.2],
  [-34.1,-32.4],[-33.3,-31.6],[-32.5,-30.8],[-31.7,-30.0],[-30.9,-29.2],[-30.1,-28.4],[-29.3,-27.6],[-28.5,-26.8],
  [-27.7,-26.0]
];

function tickLabel(v) {
  return String(v).replace('-', '\u2212');
}

var chart = echarts.init(document.getElementById('chart'), null, {renderer: 'canvas'});

var grids = [
  {left: 95, top: 13, width: 368, height: 369},
  {left: 488, top: 13, width: 368, height: 369},
  {left: 882, top: 13, width: 368, height: 369},
  {left: 112, top: 31, width: 112, height: 111},
  {left: 507, top: 32, width: 111, height: 111}
];

var xAxes = [], yAxes = [];
grids.forEach(function (g, i) {
  var inset = i > 2;
  var tick = {show: true, inside: true, length: inset ? 5 : 8, customValues: tickValues,
    lineStyle: {color: '#111', width: 2}};
  var line = {show: true, onZero: false, lineStyle: {color: '#222', width: 1.5}};
  var base = {type: 'value', gridIndex: i, min: axisRange[0], max: axisRange[1],
    splitLine: {show: false}, axisLine: line, axisTick: tick, z: inset ? 8 : 0};
  xAxes.push(Object.assign({}, base, {
    position: 'bottom',
    axisLabel: {show: !inset, customValues: tickValues, formatter: tickLabel, margin: 9,
      color: '#222', fontSize: 22, fontFamily: 'DejaVu Sans'},
    name: inset ? '' : 'Doppler Z [dBZ]', nameLocation: 'middle', nameGap: 35,
    nameTextStyle: {fontSize: 20, fontFamily: 'DejaVu Sans', color: '#222'}
  }));
  xAxes.push(Object.assign({}, base, {position: 'top', axisLabel: {show: false}}));
  yAxes.push(Object.assign({}, base, {
    position: 'left',
    axisLabel: {show: i === 0, customValues: tickValues, formatter: tickLabel, margin: 8,
      color: '#222', fontSize: 22, fontFamily: 'DejaVu Sans'},
    name: i === 0 ? 'Retrieved Z [dBZ]' : '', nameLocation: 'middle', nameGap: 63,
    nameTextStyle: {fontSize: 20, fontFamily: 'DejaVu Sans', color: '#222'}
  }));
  yAxes.push(Object.assign({}, base, {position: 'right', axisLabel: {show: false}}));
});

function rings(data, grid, color, size, width, z) {
  return {type: 'scatter', xAxisIndex: grid * 2, yAxisIndex: grid * 2, data: data,
    symbol: 'circle', symbolSize: size, z: z, silent: true,
    itemStyle: {color: 'rgba(0,0,0,0)', borderColor: color, borderWidth: width}};
}
function dots(data, grid, color, size, z) {
  return {type: 'scatter', xAxisIndex: grid * 2, yAxisIndex: grid * 2, data: data,
    symbol: 'circle', symbolSize: size, z: z, silent: true, itemStyle: {color: color}};
}
function oneToOne(grid, width, z) {
  return {type: 'line', xAxisIndex: grid * 2, yAxisIndex: grid * 2, data: diag, symbol: 'none',
    z: z, silent: true, lineStyle: {color: '#000', width: width}};
}

var series = [
  rings(drizzleRed, 0, '#ff0000', 4.4, 2, 2),
  rings(drizzleGreen, 0, '#00ee00', 4.4, 2, 2),
  rings(drizzleBlue, 0, '#0000ff', 4.4, 2, 2),
  oneToOne(0, 2.2, 3),
  rings(cloudRed, 1, '#ff0000', 4.4, 2, 2),
  rings(cloudGreen, 1, '#00ee00', 4.4, 2, 2),
  rings(cloudBlue, 1, '#0000ff', 4.4, 2, 2),
  oneToOne(1, 2.2, 3),
  {type: 'scatter', xAxisIndex: 4, yAxisIndex: 4, data: allPoints, symbol: 'circle', symbolSize: 6.2,
    z: 3, silent: true,
    itemStyle: {color: 'rgba(210,40,210,0.8)', borderColor: 'rgba(30,0,30,0.8)', borderWidth: 1.4}},
  oneToOne(2, 1.6, 2),
  rings(drizzleInsetRed, 3, '#ff0000', 3, 1.4, 5),
  dots(drizzleInsetGreen, 3, '#00ee00', 2.8, 5),
  oneToOne(3, 1.5, 6),
  dots(cloudInsetGreen, 4, '#00ee00', 2.8, 5),
  rings(cloudInsetRed, 4, '#ff0000', 3, 1.4, 5),
  oneToOne(4, 1.5, 6)
];

var titlePos = [[331, 43], [719, 43], [1096, 43]];
var graphics = titlePos.map(function (p, i) {
  return {type: 'text', x: p[0], y: p[1], z: 10, silent: true,
    style: {text: panelTitles[i], fontSize: 20, fontFamily: 'DejaVu Sans', fill: '#222',
      align: 'center', verticalAlign: 'middle'}};
});

chart.setOption({
  animation: false,
  backgroundColor: '#fff',
  grid: grids,
  xAxis: xAxes,
  yAxis: yAxes,
  series: series,
  graphic: graphics
});
</script>
</body>
</html>
